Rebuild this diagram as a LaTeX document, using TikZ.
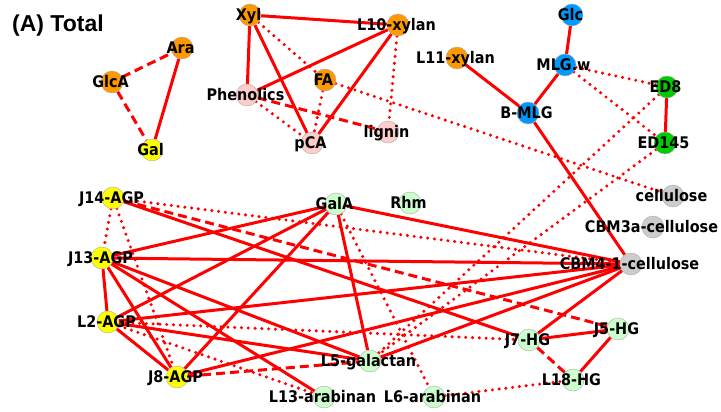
\documentclass[tikz,border=0pt]{standalone}
\usepackage{fontspec}
\newfontfamily\lblfont{DejaVu Sans Condensed}
\newfontfamily\ttlfont{Liberation Sans}
\pgfdeclarelayer{edgelayer}
\pgfsetlayers{edgelayer,main}
\definecolor{cor}{RGB}{255,153,0}
\definecolor{cye}{RGB}{255,255,0}
\definecolor{cbl}{RGB}{0,153,255}
\definecolor{cgr}{RGB}{0,204,0}
\definecolor{cpk}{RGB}{255,204,204}
\definecolor{clg}{RGB}{204,255,204}
\definecolor{cgy}{RGB}{204,204,204}
\definecolor{cbd}{RGB}{170,170,170}
\definecolor{cred}{RGB}{255,0,0}
\begin{document}
\begin{tikzpicture}[x=1pt,y=-1pt,
  nd/.style={circle,minimum size=22pt,inner sep=0pt,draw=cbd,line width=0.4pt},
  lb/.style={font=\lblfont\bfseries\fontsize{16pt}{18pt}\selectfont,text height=11.7pt,text depth=0pt,inner sep=0pt,xshift=-1.5pt},
  e/.style={draw=cred,line width=3pt},
  ed/.style={e,dash pattern=on 9pt off 5pt},
  ep/.style={e,line width=3.4pt,line cap=round,dash pattern=on 0pt off 6.8pt}
]
\useasboundingbox (0,0) rectangle (721,412);
\node[font=\ttlfont\bfseries\fontsize{23pt}{26pt}\selectfont,anchor=base west,inner sep=0pt] (title) at (12,32) {(A) Total};
% nodes
\node[nd,fill=cor,label={[lb]center:Ara}] (ara) at (182,48) {};
\node[nd,fill=cor,label={[lb]center:GlcA}] (glca) at (112,82) {};
\node[nd,fill=cye,label={[lb]center:Gal}] (gal) at (152,150) {};
\node[nd,fill=cor,label={[lb]center:Xyl}] (xyl) at (250,15) {};
\node[nd,fill=cor,label={[lb]center:L10-xylan}] (l10) at (398,25) {};
\node[nd,fill=cor,label={[lb]center:FA}] (fa) at (325,80) {};
\node[nd,fill=cpk,label={[lb]center:Phenolics}] (phen) at (247,95) {};
\node[nd,fill=cpk,label={[lb]center:pCA}] (pca) at (312,143) {};
\node[nd,fill=cpk,label={[lb]center:lignin}] (lignin) at (388,132) {};
\node[nd,fill=cbl,label={[lb]center:Glc}] (glc) at (572,15) {};
\node[nd,fill=cor,label={[lb]center:L11-xylan}] (l11) at (457,58) {};
\node[nd,fill=cbl,label={[lb]center:MLG.w}] (mlgw) at (565,65) {};
\node[nd,fill=cgr,label={[lb]center:ED8}] (ed8) at (667,87) {};
\node[nd,fill=cbl,label={[lb]center:B-MLG}] (bmlg) at (528,113) {};
\node[nd,fill=cgr,label={[lb]center:ED145}] (ed145) at (665,143) {};
\node[nd,fill=cye,label={[lb]center:J14-AGP}] (j14) at (113,198) {};
\node[nd,fill=cye,label={[lb]center:J13-AGP}] (j13) at (102,258) {};
\node[nd,fill=cye,label={[lb]center:L2-AGP}] (l2) at (108,322) {};
\node[nd,fill=cye,label={[lb]center:J8-AGP}] (j8) at (177,377) {};
\node[nd,fill=clg,label={[lb]center:GalA}] (gala) at (336,204) {};
\node[nd,fill=clg,label={[lb]center:Rhm}] (rhm) at (410,203) {};
\node[nd,fill=cgy,label={[lb]center:cellulose}] (cell) at (673,196) {};
\node[nd,fill=cgy,label={[lb]center:CBM3a-cellulose}] (cbm3a) at (653,227) {};
\node[nd,fill=cgy,label={[lb]center:CBM4-1-cellulose}] (cbm41) at (631,264) {};
\node[nd,fill=clg,label={[lb]center:L5-galactan}] (l5) at (370,361) {};
\node[nd,fill=clg,label={[lb]center:L13-arabinan}] (l13) at (324,397) {};
\node[nd,fill=clg,label={[lb]center:L6-arabinan}] (l6) at (434,397) {};
\node[nd,fill=clg,label={[lb]center:J7-HG}] (j7) at (529,340) {};
\node[nd,fill=clg,label={[lb]center:J5-HG}] (j5) at (618,329) {};
\node[nd,fill=clg,label={[lb]center:L18-HG}] (l18) at (573,380) {};
\begin{pgfonlayer}{edgelayer}
% solid
\draw[e] (ara) -- (gal);
\draw[e] (xyl) -- (l10);
\draw[e] (xyl) -- (phen);
\draw[e] (xyl) -- (pca);
\draw[e] (l10) -- (phen);
\draw[e] (l10) -- (pca);
\draw[e] (glc) -- (mlgw);
\draw[e] (mlgw) -- (bmlg);
\draw[e] (l11) -- (bmlg);
\draw[e] (bmlg) -- (cbm41);
\draw[e] (ed8) -- (ed145);
\draw[e] (j13) -- (l2);
\draw[e] (j13) -- (j8);
\draw[e] (l2) -- (j8);
\draw[e] (j13) -- (gala);
\draw[e] (l2) -- (gala);
\draw[e] (j8) -- (gala);
\draw[e] (j13) -- (cbm41);
\draw[e] (l2) -- (cbm41);
\draw[e] (j8) -- (cbm41);
\draw[e] (gala) -- (cbm41);
\draw[e] (l5) -- (cbm41);
\draw[e] (j7) -- (cbm41);
\draw[e] (j14) -- (j7);
\draw[e] (j13) -- (l5);
\draw[e] (l2) -- (l5);
\draw[e] (gala) -- (l5);
\draw[e] (j13) -- (l13);
\draw[e] (j7) -- (j5);
\draw[e] (j5) -- (l18);
% dashed
\draw[ed] (glca) -- (ara);
\draw[ed] (glca) -- (gal);
\draw[ed] (phen) -- (lignin);
\draw[ed] (j14) -- (j5);
\draw[ed] (j8) -- (l5);
\draw[ed] (j7) -- (l18);
% dotted
\draw[ep] (xyl) -- (fa);
\draw[ep] (l10) -- (lignin);
\draw[ep] (fa) -- (pca);
\draw[ep] (phen) -- (pca);
\draw[ep] (fa) -- (cell);
\draw[ep] (mlgw) -- (ed8);
\draw[ep] (mlgw) -- (ed145);
\draw[ep] (ed8) -- (l5);
\draw[ep] (ed145) -- (l5);
\draw[ep] (j14) -- (j13);
\draw[ep] (j14) -- (j8);
\draw[ep] (j14) -- (cbm41);
\draw[ep] (l2) -- (j7);
\draw[ep] (l2) -- (l13);
\draw[ep] (gala) -- (l6);
\draw[ep] (l6) -- (l18);
\end{pgfonlayer}
\end{tikzpicture}
\end{document}
